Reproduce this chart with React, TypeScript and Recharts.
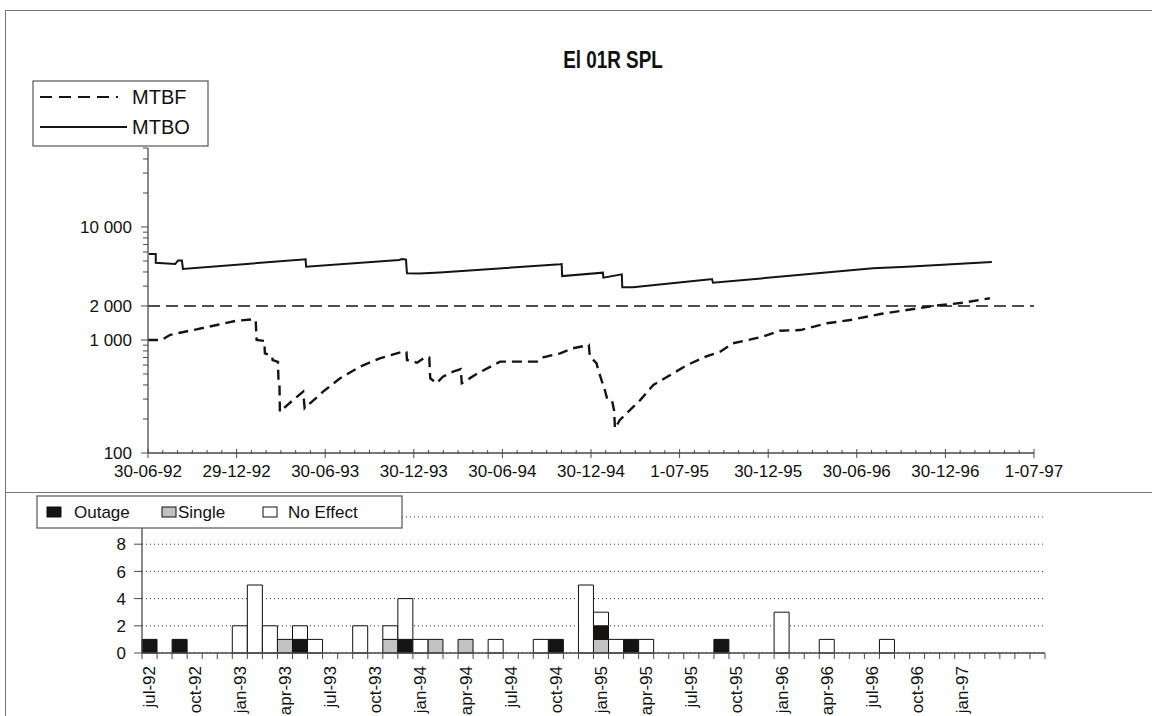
import React from 'react';
import { LineChart, Line, XAxis, YAxis, ReferenceLine, BarChart, Bar, CartesianGrid } from 'recharts';

const FONT = '"Liberation Sans", Arial, Helvetica, sans-serif';

// ---------- top chart data (days since 30-06-92) ----------
const mtbfDays = [0, 28, 45, 66, 100, 142, 183, 215, 222, 224, 240, 241, 256, 257, 268, 269, 271, 272, 299, 320, 323, 361, 396, 437, 478, 526, 533, 534, 555, 571, 580, 582, 595, 608, 629, 645, 647, 680, 726, 767, 802, 815, 850, 876, 909, 911, 925, 928, 936, 940, 947, 957, 961, 963, 973, 1015, 1042, 1077, 1112, 1153, 1180, 1206, 1268, 1303, 1345, 1400, 1448, 1510, 1565, 1619, 1681, 1736];
const mtbfValues = [1000, 1000, 1107, 1160, 1243, 1358, 1482, 1520, 1500, 1000, 980, 762, 720, 665, 640, 443, 430, 232, 294, 349, 249, 349, 458, 581, 689, 788, 780, 665, 630, 703, 700, 458, 414, 473, 524, 553, 414, 507, 643, 643, 643, 703, 762, 845, 903, 720, 620, 553, 430, 387, 300, 290, 240, 165, 196, 294, 400, 490, 601, 721, 788, 935, 1070, 1208, 1224, 1406, 1503, 1698, 1842, 2000, 2138, 2340];

const mtboDays = [2, 16, 16, 56, 62, 70, 72, 325, 326, 518, 524, 532, 534, 560, 602, 850, 853, 854, 938, 939, 977, 978, 1000, 1160, 1163, 1165, 1495, 1565, 1740];
const mtboValues = [5770, 5770, 4830, 4700, 5050, 5050, 4250, 5180, 4450, 5100, 5200, 5150, 3890, 3870, 3960, 4680, 4700, 3680, 3940, 3560, 3810, 2930, 2930, 3440, 3460, 3210, 4310, 4450, 4900];

const referenceLevel = 2000;
const totalDays = 1827;
const monthCount = 60;
const dateLabels = ['30-06-92', '29-12-92', '30-06-93', '30-12-93', '30-06-94', '30-12-94', '1-07-95', '30-12-95', '30-06-96', '30-12-96', '1-07-97'];
const yTickValues = [100, 200, 300, 400, 500, 600, 700, 800, 900, 1000, 2000, 3000, 4000, 5000, 6000, 7000, 8000, 9000, 10000, 20000, 30000, 40000, 50000];
const yTickLabels: Record<number, string> = { 100: '100', 1000: '1 000', 2000: '2 000', 10000: '10 000' };
const yDomain = [100, 50000];

// ---------- bottom chart data ----------
const months = [
  'jul-92', 'aug-92', 'sep-92', 'oct-92', 'nov-92', 'dec-92',
  'jan-93', 'feb-93', 'mar-93', 'apr-93', 'may-93', 'jun-93',
  'jul-93', 'aug-93', 'sep-93', 'oct-93', 'nov-93', 'dec-93',
  'jan-94', 'feb-94', 'mar-94', 'apr-94', 'may-94', 'jun-94',
  'jul-94', 'aug-94', 'sep-94', 'oct-94', 'nov-94', 'dec-94',
  'jan-95', 'feb-95', 'mar-95', 'apr-95', 'may-95', 'jun-95',
  'jul-95', 'aug-95', 'sep-95', 'oct-95', 'nov-95', 'dec-95',
  'jan-96', 'feb-96', 'mar-96', 'apr-96', 'may-96', 'jun-96',
  'jul-96', 'aug-96', 'sep-96', 'oct-96', 'nov-96', 'dec-96',
  'jan-97', 'feb-97', 'mar-97', 'apr-97', 'may-97', 'jun-97',
];
const outage = [
  1, 0, 1, 0, 0, 0,
  0, 0, 0, 0, 1, 0,
  0, 0, 0, 0, 0, 1,
  0, 0, 0, 0, 0, 0,
  0, 0, 0, 1, 0, 0,
  1, 0, 1, 0, 0, 0,
  0, 0, 1, 0, 0, 0,
  0, 0, 0, 0, 0, 0,
  0, 0, 0, 0, 0, 0,
  0, 0, 0, 0, 0, 0,
];
const single = [
  0, 0, 0, 0, 0, 0,
  0, 0, 0, 1, 0, 0,
  0, 0, 0, 0, 1, 0,
  0, 1, 0, 1, 0, 0,
  0, 0, 0, 0, 0, 0,
  1, 0, 0, 0, 0, 0,
  0, 0, 0, 0, 0, 0,
  0, 0, 0, 0, 0, 0,
  0, 0, 0, 0, 0, 0,
  0, 0, 0, 0, 0, 0,
];
const noEffect = [
  0, 0, 0, 0, 0, 0,
  2, 5, 2, 0, 1, 1,
  0, 0, 2, 0, 1, 3,
  1, 0, 0, 0, 0, 1,
  0, 0, 1, 0, 0, 5,
  1, 1, 0, 1, 0, 0,
  0, 0, 0, 0, 0, 0,
  3, 0, 0, 1, 0, 0,
  0, 1, 0, 0, 0, 0,
  0, 0, 0, 0, 0, 0,
];
const labelledMonths = ['jul-92', 'oct-92', 'jan-93', 'apr-93', 'jul-93', 'oct-93', 'jan-94', 'apr-94', 'jul-94', 'oct-94', 'jan-95', 'apr-95', 'jul-95', 'oct-95', 'jan-96', 'apr-96', 'jul-96', 'oct-96', 'jan-97'];
const barTicks = [0, 2, 4, 6, 8, 10];

const mtbfData = mtbfDays.map((d, i) => ({ day: d, v: mtbfValues[i] }));
const mtboData = mtboDays.map((d, i) => ({ day: d, v: mtboValues[i] }));
const monthTicks = Array.from({ length: monthCount + 1 }, (_, i) => (i * totalDays) / monthCount);
const barData = months.map((m, i) => ({ month: m, outage: outage[i], single: single[i], noEffect: noEffect[i] }));

const AXIS = '#4a4a4a';
const INK = '#161412';

// layout
const W = 1152;
const TOP_H = 490;
const BOT_H = 226;
const barMargin = { top: 27, right: 107, bottom: 8, left: 102 };
const barYAxisW = 40;
const barBand = (W - barMargin.left - barMargin.right - barYAxisW) / months.length;

const LogTick = (props: any) => {
  const { x, y, payload } = props;
  const label = yTickLabels[payload.value];
  return (
    <g>
      <line x1={x - (label ? 7 : 5)} x2={x} y1={y} y2={y} stroke={AXIS} strokeWidth={1} />
      {label ? (
        <text x={x - 16} y={y} dy="0.35em" textAnchor="end" fontFamily={FONT} fontSize={17} fill="#111">
          {label}
        </text>
      ) : null}
    </g>
  );
};

const DayTick = (props: any) => {
  const { x, y, index } = props;
  const major = index % 6 === 0;
  return (
    <g>
      <line x1={x} x2={x} y1={y - (major ? 4 : 3)} y2={y + (major ? 5 : 1)} stroke={AXIS} strokeWidth={1} />
      {major ? (
        <text x={x} y={y + 24} textAnchor="middle" fontFamily={FONT} fontSize={17} fill="#111">
          {dateLabels[index / 6]}
        </text>
      ) : null}
    </g>
  );
};

const CountTick = (props: any) => {
  const { x, y, payload } = props;
  const show = payload.value !== 10;
  return (
    <g>
      <line x1={x - 8} x2={x} y1={y} y2={y} stroke={AXIS} strokeWidth={1} />
      {show ? (
        <text x={x - 16} y={y} dy="0.36em" textAnchor="end" fontFamily={FONT} fontSize={17} fill="#111">
          {payload.value}
        </text>
      ) : null}
    </g>
  );
};

const MonthTick = (props: any) => {
  const { x, y, payload, index } = props;
  const show = labelledMonths.includes(payload.value);
  const left = x - barBand / 2;
  return (
    <g>
      <line x1={left} x2={left} y1={y} y2={y + 6} stroke={AXIS} strokeWidth={1} />
      {index === months.length - 1 ? (
        <line x1={x + barBand / 2} x2={x + barBand / 2} y1={y} y2={y + 6} stroke={AXIS} strokeWidth={1} />
      ) : null}
      {show ? (
        <text
          x={x}
          y={y + 13}
          dy="0.35em"
          textAnchor="end"
          transform={`rotate(-90, ${x}, ${y + 13})`}
          fontFamily={FONT}
          fontSize={17}
          fill="#111"
        >
          {payload.value}
        </text>
      ) : null}
    </g>
  );
};

export default function App() {
  return (
    <div style={{ position: 'relative', width: W, height: 716, background: '#fff', overflow: 'hidden', fontFamily: FONT }}>
      <style>{'body{margin:0;background:#fff}'}</style>

      {/* frame */}
      <div style={{ position: 'absolute', left: 5, top: 10, width: W - 5, height: 0, borderTop: '1.5px solid #777' }} />
      <div style={{ position: 'absolute', left: 5, top: 10, width: 0, height: 716 - 10, borderLeft: '1.5px solid #777' }} />
      <div style={{ position: 'absolute', left: 5, top: 492, width: W - 5, height: 0, borderTop: '1.5px solid #777' }} />

      {/* top chart */}
      <div style={{ position: 'absolute', left: 0, top: 0 }}>
        <LineChart width={W} height={TOP_H} margin={{ top: 148, right: 118, bottom: 7, left: 88 }}>
          <XAxis
            dataKey="day"
            type="number"
            domain={[0, totalDays]}
            allowDataOverflow
            ticks={monthTicks}
            interval={0}
            tickLine={false}
            tickSize={0}
            tickMargin={0}
            height={30}
            axisLine={{ stroke: AXIS, strokeWidth: 1.3 }}
            tick={(p: any) => <DayTick {...p} />}
          />
          <YAxis
            type="number"
            scale="log"
            domain={yDomain}
            allowDataOverflow
            ticks={yTickValues}
            interval={0}
            tickLine={false}
            tickSize={0}
            tickMargin={0}
            width={60}
            axisLine={{ stroke: AXIS, strokeWidth: 1.3 }}
            tick={(p: any) => <LogTick {...p} />}
          />
          <ReferenceLine y={referenceLevel} stroke={INK} strokeWidth={1.3} strokeDasharray="12 6" />
          <Line
            data={mtboData}
            dataKey="v"
            type="linear"
            stroke={INK}
            strokeWidth={2}
            dot={false}
            activeDot={false}
            isAnimationActive={false}
          />
          <Line
            data={mtbfData}
            dataKey="v"
            type="linear"
            stroke={INK}
            strokeWidth={2.4}
            strokeDasharray="10 6"
            dot={false}
            activeDot={false}
            isAnimationActive={false}
          />
        </LineChart>
      </div>

      {/* title */}
      <div style={{ position: 'absolute', left: 513, top: 46, width: 200, textAlign: 'center', fontSize: 23, fontWeight: 'bold', color: '#111', lineHeight: '28px', transform: 'scaleX(0.82)', transformOrigin: '50% 50%' }}>
        El 01R SPL
      </div>

      {/* top legend */}
      <svg style={{ position: 'absolute', left: 32, top: 80 }} width={178} height={68}>
        <rect x={1} y={1} width={175} height={65} fill="#fff" stroke="#555" strokeWidth={1.2} />
        <line x1={8} x2={86} y1={17} y2={17} stroke={INK} strokeWidth={2} strokeDasharray="12 7" />
        <text x={100} y={24} fontFamily={FONT} fontSize={20} fill="#111">MTBF</text>
        <line x1={8} x2={95} y1={47} y2={47} stroke={INK} strokeWidth={2} />
        <text x={100} y={54} fontFamily={FONT} fontSize={20} fill="#111">MTBO</text>
      </svg>

      {/* bottom chart */}
      <div style={{ position: 'absolute', left: 0, top: 490 }}>
        <BarChart width={W} height={BOT_H} data={barData} margin={barMargin} barCategoryGap={0} barGap={0}>
          <CartesianGrid vertical={false} stroke="#333" strokeDasharray="1 3" />
          <XAxis
            dataKey="month"
            interval={0}
            tickLine={false}
            tickSize={0}
            tickMargin={0}
            height={55}
            axisLine={{ stroke: AXIS, strokeWidth: 1.3 }}
            tick={(p: any) => <MonthTick {...p} />}
          />
          <YAxis
            type="number"
            domain={[0, 10]}
            ticks={barTicks}
            interval={0}
            tickLine={false}
            tickSize={0}
            tickMargin={0}
            width={barYAxisW}
            axisLine={{ stroke: AXIS, strokeWidth: 1.3 }}
            tick={(p: any) => <CountTick {...p} />}
          />
          <Bar dataKey="single" stackId="a" fill="#c2c2c2" stroke="#111" strokeWidth={1} isAnimationActive={false} />
          <Bar dataKey="outage" stackId="a" fill={INK} stroke="#111" strokeWidth={1} isAnimationActive={false} />
          <Bar dataKey="noEffect" stackId="a" fill="#fff" stroke="#111" strokeWidth={1} isAnimationActive={false} />
        </BarChart>
      </div>

      {/* bottom legend */}
      <svg style={{ position: 'absolute', left: 36, top: 495 }} width={368} height={35}>
        <rect x={1} y={1} width={365} height={32} fill="#fff" stroke="#555" strokeWidth={1.2} />
        <rect x={11} y={12} width={14} height={10} fill={INK} stroke="#111" />
        <text x={38} y={23} fontFamily={FONT} fontSize={17} fill="#111">Outage</text>
        <rect x={126} y={12} width={14} height={10} fill="#c2c2c2" stroke="#111" />
        <text x={142} y={23} fontFamily={FONT} fontSize={17} fill="#111">Single</text>
        <rect x={227} y={12} width={14} height={10} fill="#fff" stroke="#111" />
        <text x={252} y={23} fontFamily={FONT} fontSize={17} fill="#111">No Effect</text>
      </svg>
    </div>
  );
}
